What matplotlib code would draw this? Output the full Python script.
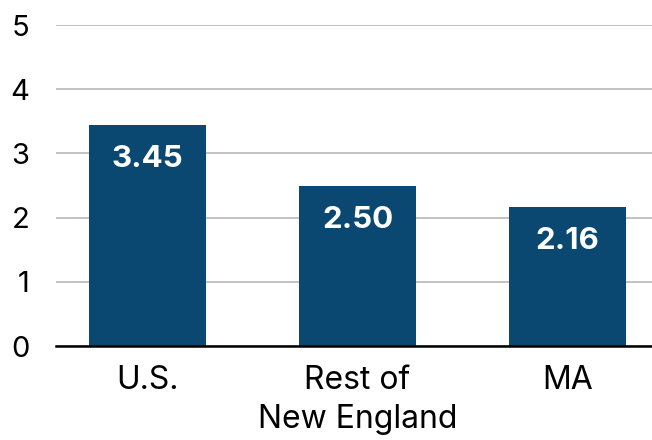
import matplotlib.pyplot as plt

plt.rcParams['font.family'] = ['Inter', 'DejaVu Sans']

regions = ["U.S.", "Rest of\nNew England", "MA"]
values = [3.45, 2.50, 2.16]
y_ticks = [0, 1, 2, 3, 4, 5]

BAR_COLOR = "#0a4771"

fig = plt.figure(figsize=(6.52, 4.40), dpi=100)
ax = fig.add_axes([0.0859, 0.2136, 0.9141, 0.7295])

x = list(range(len(regions)))
bars = ax.bar(x, values, width=0.557, color=BAR_COLOR, zorder=3)

for b, v in zip(bars, values):
    ax.annotate("{:.2f}".format(v), (b.get_x() + b.get_width() / 2, v),
                xytext=(0, -24.5), textcoords="offset points",
                ha="center", va="center", color="white",
                fontsize=22.5, fontweight="bold", zorder=4)

ax.set_xlim(-0.436, 2.402)
ax.set_ylim(0, 5)
ax.set_yticks(y_ticks)
ax.set_yticklabels([str(t) for t in y_ticks])
ax.set_xticks(x)
ax.set_xticklabels(regions, linespacing=1.3)

ax.yaxis.grid(True, color="#bdbdbd", linewidth=1.3, zorder=0)
ax.set_axisbelow(True)
for s in ["top", "right", "left"]:
    ax.spines[s].set_visible(False)
ax.spines["bottom"].set_color("black")
ax.spines["bottom"].set_linewidth(1.8)
ax.spines["bottom"].set_zorder(5)

ax.tick_params(axis="y", length=0, pad=19, labelsize=21, colors="black")
ax.tick_params(axis="x", length=0, pad=14, labelsize=23, colors="black")

fig.savefig("out.png", dpi=100)
